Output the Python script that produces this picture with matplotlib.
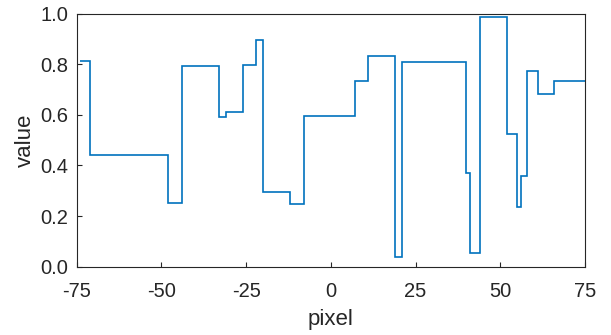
import matplotlib
matplotlib.use("Agg")
import matplotlib.pyplot as plt

plt.rcParams['font.family'] = ['Liberation Sans', 'DejaVu Sans']

# step edges (pixel) and values between edges
edges = [-74, -71, -48, -44, -33, -31, -26, -22, -20, -12, -8, 7, 11, 19, 21,
         40, 41, 44, 52, 55, 56, 58, 61, 66, 75]
values = [0.814, 0.440, 0.253, 0.791, 0.592, 0.610, 0.795, 0.896, 0.296, 0.248,
          0.596, 0.733, 0.832, 0.038, 0.808, 0.370, 0.053, 0.987, 0.526, 0.237,
          0.357, 0.774, 0.683, 0.735]
xticks = [-75, -50, -25, 0, 25, 50, 75]
yticks = [0.0, 0.2, 0.4, 0.6, 0.8, 1.0]

fig = plt.figure(figsize=(6.11, 3.35), dpi=100)
ax = fig.add_axes([0.1255, 0.2039, 0.8319, 0.7558])
ax.stairs(values, edges, color='#0072BD', linewidth=1.2, baseline=None)

ax.set_xlim(-75, 75)
ax.set_ylim(0, 1)
ax.set_xticks(xticks)
ax.set_xticklabels([f"{t:d}" for t in xticks])
ax.set_yticks(yticks)
ax.set_yticklabels([f"{t:.1f}" for t in yticks])
ax.tick_params(direction='in', length=3.5, width=0.8, labelsize=14.5,
               colors='#262626', top=False, right=False)
ax.tick_params(axis='x', pad=11)
ax.tick_params(axis='y', pad=6)
for s in ax.spines.values():
    s.set_color('#262626')
    s.set_linewidth(0.8)
ax.set_xlabel('pixel', fontsize=16, color='#262626', labelpad=6)
ax.set_ylabel('value', fontsize=16, color='#262626', labelpad=3)

fig.savefig('out.png', dpi=100)
